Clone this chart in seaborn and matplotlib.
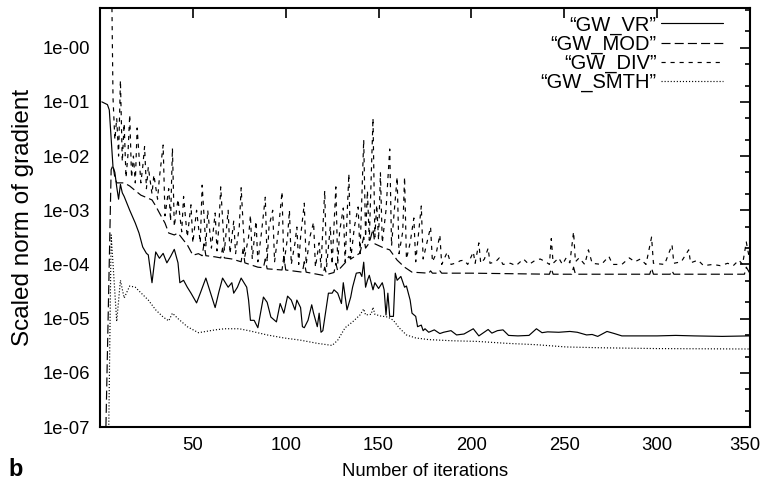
import numpy as np
import pandas as pd
import matplotlib
matplotlib.use("Agg")
import matplotlib.pyplot as plt
import matplotlib.transforms as mtransforms
import seaborn as sns
from matplotlib.ticker import FixedLocator, FuncFormatter, LogLocator, NullFormatter, NullLocator

# ---------------- data ----------------
vr_x = [1, 4, 5, 7, 8, 9, 10, 11, 12, 13, 16, 19, 21, 23, 25, 26, 28, 30, 32, 34, 36, 38, 40, 42, 43,
        45, 47, 49, 52, 54, 57, 59, 62, 64, 66, 69, 71, 72, 74, 76, 79, 80, 81, 83, 85, 88, 90, 92, 95,
        97, 99, 101, 103, 105, 106, 108, 109, 110, 112, 114, 115, 117, 118, 119, 120, 123, 125, 126,
        128, 130, 131, 133, 135, 136, 138, 140, 141, 142, 143, 144, 145, 147, 148, 150, 152, 153, 154,
        155, 156, 158, 159, 160, 162, 164, 165, 167, 168, 170, 171, 173, 174, 175, 177, 180, 183, 185,
        189, 192, 196, 201, 204, 209, 211, 214, 217, 220, 225, 231, 235, 238, 241, 247, 253, 257, 262,
        265, 268, 273, 277, 281, 290, 300, 310, 320, 335, 350]
vr_y = [1.0e-1, 8.9e-2, 7.1e-2, 6.3e-3, 5.0e-3, 2.7e-3, 1.6e-3, 3.0e-3, 2.1e-3, 1.8e-3, 1.0e-3, 5.8e-4,
        3.8e-4, 2.1e-4, 1.6e-4, 1.5e-4, 4.6e-5, 1.7e-4, 1.3e-4, 1.6e-4, 1.07e-4, 1.4e-4, 1.9e-4,
        1.07e-4, 4.6e-5, 5.1e-5, 3.8e-5, 2.95e-5, 1.95e-5, 2.95e-5, 5.6e-5, 3.4e-5, 1.6e-5, 3.1e-5,
        5.6e-5, 3.8e-5, 4.6e-5, 2.95e-5, 3.8e-5, 5.6e-5, 3.8e-5, 2.2e-5, 9.3e-6, 9.3e-6, 6.8e-6,
        2.5e-5, 2.0e-5, 1.07e-5, 8.7e-6, 1.9e-5, 1.26e-5, 2.6e-5, 2.2e-5, 1.45e-5, 2.2e-5, 1.6e-5,
        7.1e-6, 6.8e-6, 9.3e-6, 1.8e-5, 1.26e-5, 7.1e-6, 1.26e-5, 5.6e-6, 6.0e-6, 2.95e-5, 2.95e-5,
        3.4e-5, 2.95e-5, 1.9e-5, 4.6e-5, 1.45e-5, 2.5e-5, 3.8e-5, 6.9e-5, 7.1e-5, 6.0e-5, 1.1e-4,
        3.8e-5, 5.1e-5, 6.3e-5, 3.4e-5, 4.6e-5, 3.6e-5, 4.6e-5, 3.4e-5, 1.17e-5, 2.95e-5, 1.1e-5,
        1.1e-5, 6.9e-5, 5.1e-5, 6.0e-5, 3.8e-5, 4.0e-5, 2.2e-5, 1.26e-5, 1.1e-5, 7.1e-6, 7.6e-6,
        6.0e-6, 6.5e-6, 5.6e-6, 6.2e-6, 5.3e-6, 5.6e-6, 6.0e-6, 5.0e-6, 5.2e-6, 6.5e-6, 4.8e-6,
        6.3e-6, 5.4e-6, 6.0e-6, 6.2e-6, 4.9e-6, 4.8e-6, 4.9e-6, 6.5e-6, 5.5e-6, 5.7e-6, 5.6e-6,
        5.8e-6, 5.6e-6, 5.0e-6, 5.1e-6, 4.7e-6, 5.8e-6, 5.3e-6, 4.8e-6, 4.8e-6, 4.8e-6, 4.9e-6,
        4.8e-6, 4.7e-6, 4.8e-6]

mod_x = [1, 2, 6, 7, 8, 9, 13, 16, 19, 22, 26, 28, 30, 32, 35, 37, 40, 42, 45, 47, 50, 53, 55, 56, 57,
         62, 65, 66, 67, 71, 76, 77, 78, 85, 88, 89, 90, 98, 99, 100, 109, 110, 111, 120, 121, 122,
         126, 127, 128, 132, 134, 135, 140, 142, 143, 145, 147, 148, 153, 156, 160, 164, 168, 177,
         178, 179, 182, 183, 184, 200, 242, 243, 244, 254, 255, 256, 296, 297, 298, 307, 308, 309,
         347, 348, 350]
mod_y = [1e-9, 1e-9, 5.6e-3, 6.8e-3, 4.0e-3, 3.2e-3, 3.2e-3, 2.8e-3, 2.3e-3, 1.9e-3, 1.66e-3, 1.55e-3,
         1.2e-3, 8.9e-4, 5.8e-4, 3.8e-4, 3.5e-4, 3.8e-4, 2.8e-4, 2.3e-4, 1.48e-4, 1.58e-4, 1.45e-4,
         2.4e-4, 1.45e-4, 1.38e-4, 1.32e-4, 2.0e-4, 1.32e-4, 1.26e-4, 1.12e-4, 1.9e-4, 1.07e-4,
         8.9e-5, 8.7e-5, 1.26e-4, 8.3e-5, 7.9e-5, 1.41e-4, 7.9e-5, 7.2e-5, 1.12e-4, 7.2e-5, 6.3e-5,
         8.9e-5, 6.5e-5, 7.1e-5, 1.05e-4, 7.6e-5, 1.07e-4, 1.41e-4, 1.26e-4, 1.62e-4, 3.2e-4,
         2.0e-4, 2.5e-4, 4.5e-4, 2.4e-4, 2.0e-4, 1.86e-4, 1.2e-4, 8.9e-5, 7.2e-5, 6.9e-5, 7.6e-5,
         6.9e-5, 6.9e-5, 7.6e-5, 6.9e-5, 6.9e-5, 6.6e-5, 8.3e-5, 6.6e-5, 6.6e-5, 8.9e-5, 6.6e-5,
         6.6e-5, 8.5e-5, 6.6e-5, 6.6e-5, 7.6e-5, 6.6e-5, 6.6e-5, 8.9e-5, 6.8e-5]

div_x = [1, 6, 7, 8, 9, 10, 11, 12, 13, 14, 15, 16, 17, 18, 19, 20, 22, 23, 24, 25, 26, 28, 29, 31, 32,
         34, 35, 37, 38, 39, 40, 42, 44, 45, 47, 49, 50, 52, 54, 55, 57, 58, 60, 62, 63, 64, 65, 67,
         69, 70, 72, 73, 75, 76, 78, 80, 81, 82, 84, 85, 87, 89, 90, 91, 93, 94, 96, 98, 99, 101, 102,
         103, 105, 106, 107, 108, 110, 111, 113, 115, 116, 118, 119, 121, 122, 124, 125, 127, 128,
         129, 131, 132, 134, 135, 137, 139, 140, 142, 143, 144, 145, 147, 148, 149, 150, 151, 152,
         154, 156, 157, 158, 160, 161, 163, 164, 165, 167, 169, 170, 171, 173, 174, 176, 178, 179,
         181, 183, 184, 187, 189, 192, 194, 196, 198, 201, 202, 204, 205, 207, 209, 210, 213, 215,
         217, 221, 224, 228, 231, 234, 237, 240, 242, 243, 244, 247, 249, 251, 253, 255, 256, 258,
         261, 263, 265, 270, 274, 276, 281, 285, 288, 291, 294, 297, 298, 304, 308, 309, 313, 317,
         318, 322, 325, 330, 334, 338, 341, 344, 346, 348, 350]
div_y = [100.0, 100.0, 1.2e-1, 2.0e-2, 5.0e-2, 1.0e-2, 2.5e-1, 7.9e-3, 4.0e-2, 4.0e-3, 1.0e-2, 5.8e-2,
         4.0e-3, 1.0e-2, 3.2e-3, 3.3e-2, 3.2e-3, 6.3e-3, 1.5e-2, 2.5e-3, 6.3e-3, 2.0e-3, 4.5e-3,
         1.6e-3, 4.0e-3, 1.6e-2, 7.9e-4, 2.5e-3, 6.3e-4, 1.4e-2, 5.0e-4, 1.6e-3, 4.0e-4, 1.8e-3,
         3.2e-4, 1.26e-3, 2.5e-4, 1.0e-3, 2.5e-4, 2.9e-3, 2.2e-4, 1.0e-3, 2.0e-4, 8.9e-4, 1.78e-4,
         5.0e-4, 2.7e-3, 1.78e-4, 1.0e-3, 1.58e-4, 6.3e-4, 1.58e-4, 5.0e-4, 2.6e-3, 1.41e-4, 3.2e-4,
         8.1e-4, 1.26e-4, 6.3e-4, 1.12e-4, 4.0e-4, 1.74e-3, 1.12e-4, 5.0e-4, 1.0e-3, 1.12e-4, 4.0e-4,
         2.2e-3, 1.0e-4, 3.2e-4, 1.0e-3, 1.0e-4, 2.5e-4, 4.9e-4, 1.0e-4, 3.2e-4, 1.35e-3, 1.0e-4,
         3.2e-4, 6.0e-4, 8.9e-5, 2.5e-4, 8.9e-5, 2.3e-3, 8.9e-5, 5.0e-4, 1.0e-4, 2.7e-3, 1.0e-4,
         4.0e-4, 1.1e-3, 1.12e-4, 4.7e-3, 1.26e-4, 5.0e-4, 1.15e-3, 1.58e-4, 2.0e-2, 3.2e-4, 2.3e-3,
         2.8e-4, 5.0e-2, 3.2e-4, 1.26e-3, 2.8e-4, 4.9e-3, 2.5e-4, 1.0e-3, 1.35e-2, 2.2e-4, 6.3e-4,
         4.1e-3, 1.58e-4, 4.0e-4, 4.1e-3, 1.26e-4, 2.5e-4, 7.2e-4, 1.12e-4, 2.5e-4, 1.2e-3, 1.26e-4,
         2.5e-4, 4.9e-4, 1.12e-4, 1.58e-4, 3.5e-4, 1.0e-4, 1.7e-4, 1.0e-4, 1.07e-4, 1.17e-4, 1.2e-4,
         1.0e-4, 1.7e-4, 1.05e-4, 2.5e-4, 1.05e-4, 1.26e-4, 2.0e-4, 1.05e-4, 1.12e-4, 1.32e-4,
         1.0e-4, 1.05e-4, 9.5e-5, 1.26e-4, 1.0e-4, 1.17e-4, 1.26e-4, 1.12e-4, 1.0e-4, 3.0e-4,
         1.05e-4, 1.32e-4, 1.0e-4, 1.32e-4, 1.07e-4, 4.0e-4, 1.12e-4, 1.32e-4, 1.0e-4, 1.86e-4,
         1.05e-4, 1.0e-4, 1.41e-4, 1.0e-4, 1.0e-4, 1.32e-4, 1.12e-4, 1.26e-4, 1.0e-4, 3.2e-4,
         1.05e-4, 1.0e-4, 2.3e-4, 1.05e-4, 1.12e-4, 1.86e-4, 1.07e-4, 1.2e-4, 9.5e-5, 1.0e-4,
         9.5e-5, 1.05e-4, 9.5e-5, 1.2e-4, 1.0e-4, 2.6e-4, 1.12e-4]

smth_x = [1, 4, 6, 9, 11, 13, 16, 19, 22, 26, 30, 34, 37, 39, 42, 47, 53, 57, 62, 67, 75, 81, 90, 99,
          108, 117, 125, 128, 132, 136, 140, 142, 143, 146, 147, 148, 151, 155, 158, 161, 165, 170,
          177, 190, 203, 219, 235, 251, 269, 300, 350]
smth_y = [1e-9, 1e-9, 3.5e-4, 8.9e-6, 5.1e-5, 2.4e-5, 4.0e-5, 3.8e-5, 3.0e-5, 2.2e-5, 1.45e-5,
          1.07e-5, 9.1e-6, 1.26e-5, 1.0e-5, 7.1e-6, 5.5e-6, 5.8e-6, 6.2e-6, 6.5e-6, 6.5e-6, 5.9e-6,
          5.0e-6, 4.4e-6, 4.0e-6, 3.5e-6, 3.2e-6, 4.0e-6, 6.8e-6, 8.7e-6, 1.17e-5, 1.51e-5, 1.17e-5,
          1.2e-5, 1.62e-5, 1.2e-5, 1.12e-5, 1.07e-5, 9.3e-6, 6.8e-6, 5.0e-6, 4.4e-6, 4.1e-6, 3.9e-6,
          3.8e-6, 3.5e-6, 3.3e-6, 3.0e-6, 2.9e-6, 2.8e-6, 2.75e-6]

series_labels = ["\u201cGW_VR\u201d", "\u201cGW_MOD\u201d", "\u201cGW_DIV\u201d", "\u201cGW_SMTH\u201d"]
x_ticks = [50, 100, 150, 200, 250, 300, 350]
y_exponents = [-7, -6, -5, -4, -3, -2, -1, 0]

# ---------------- style ----------------
sns.set_theme(style="white")
plt.rcParams.update({
    "font.family": ["Liberation Sans", "DejaVu Sans"],
    "lines.scale_dashes": False,
    "axes.edgecolor": "black",
    "axes.linewidth": 1.5,
    "xtick.color": "black",
    "ytick.color": "black",
    "text.color": "black",
    "axes.labelcolor": "black",
})

fig = plt.figure(figsize=(7.62, 4.91), dpi=100)
ax = fig.add_axes([100 / 762, 1 - 427 / 491, 650 / 762, 419 / 491])

dash_styles = [None, (6.5, 3.0), (3.0, 3.5), (0.8, 1.4)]
all_series = [(vr_x, vr_y), (mod_x, mod_y), (div_x, div_y), (smth_x, smth_y)]
handles = []
for (xs, ys), lab, dsh in zip(all_series, series_labels, dash_styles):
    df = pd.DataFrame({"iter": xs, "val": ys})
    n_before = len(ax.lines)
    sns.lineplot(data=df, x="iter", y="val", ax=ax, color="black", linewidth=0.85,
                 estimator=None, sort=False, legend=False)
    ln = ax.lines[n_before]
    if dsh is not None:
        ln.set_dashes(dsh)
    ln.set_label(lab)
    handles.append(ln)

ax.set_yscale("log")
ax.set_xlim(0, 350)
ax.set_ylim(1e-7, 5.4)

ax.xaxis.set_major_locator(FixedLocator(x_ticks))
ax.xaxis.set_minor_locator(NullLocator())
ax.yaxis.set_major_locator(FixedLocator([10.0 ** e for e in y_exponents]))
ax.yaxis.set_major_formatter(FuncFormatter(lambda v, p: "1e-%02d" % int(round(-np.log10(v)))))
ax.yaxis.set_minor_locator(LogLocator(base=10, subs=(2.0, 5.0), numticks=30))
ax.yaxis.set_minor_formatter(NullFormatter())

ax.tick_params(which="both", direction="in", top=True, right=True, width=1.2, labelsize=13.3)
ax.tick_params(which="major", length=7, pad=7)
ax.tick_params(which="minor", length=3.5)

ax.set_xlabel("Number of iterations", fontsize=13.3, labelpad=7)
ax.set_ylabel("Scaled norm of gradient", fontsize=17.5, labelpad=6)

leg = ax.legend(handles=handles, labels=series_labels, loc="upper right",
                bbox_to_anchor=((723 - 100) / 650, (427 - 15.5) / 419), frameon=False,
                markerfirst=False, handlelength=3.1, handletextpad=0.19, labelspacing=0.0,
                borderpad=0, borderaxespad=0, fontsize=14.5)

fig.text(8 / 762, 1 - 470 / 491, "b", fontsize=17, fontweight="bold", ha="left", va="center")

# keep the last x tick label inside the canvas (in the reference it touches the edge)
fig.canvas.draw()
last_lbl = ax.xaxis.get_major_ticks()[-1].label1
last_lbl.set_transform(last_lbl.get_transform() +
                       mtransforms.ScaledTranslation(-5 / 100, 0, fig.dpi_scale_trans))

fig.savefig("out.png", dpi=100)
